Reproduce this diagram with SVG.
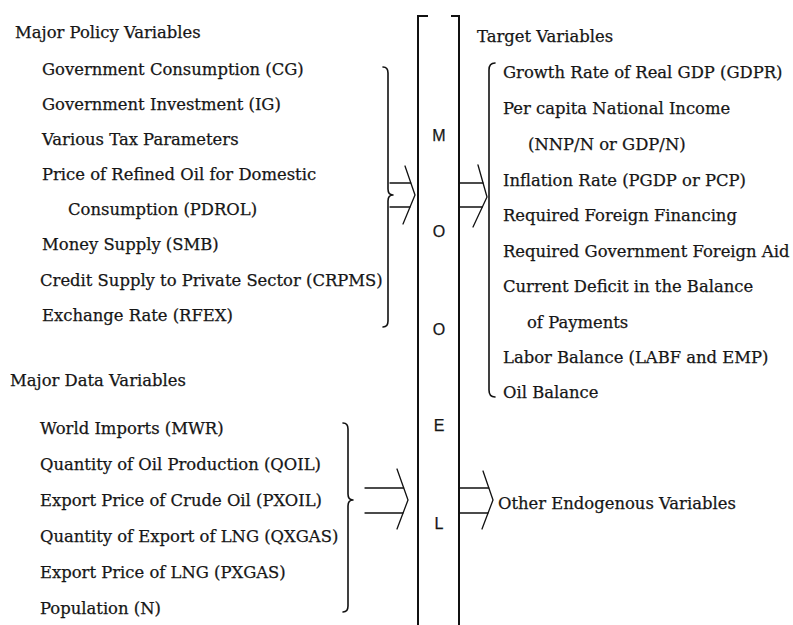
<svg xmlns="http://www.w3.org/2000/svg" width="793" height="625" viewBox="0 0 793 625">
<style>
  text { font-family: "DejaVu Serif", "Liberation Serif", serif; font-size: 16.4px; fill: #161616; stroke: #161616; stroke-width: 0.25; }
  .letter { font-family: "Liberation Sans", "DejaVu Sans", sans-serif; font-size: 16px; text-anchor: middle; stroke-width: 0.25; }
  .line { fill: none; stroke: #111; stroke-width: 1.3; stroke-linecap: round; stroke-linejoin: round; }
  .brace { fill: none; stroke: #111; stroke-width: 1.6; stroke-linecap: round; stroke-linejoin: round; }
  .col { fill: none; stroke: #111; stroke-width: 2; stroke-linecap: butt; }
</style>
<rect width="793" height="625" fill="#fff"/>

<g id="policy-variables">
  <text x="15" y="38">Major Policy Variables</text>
  <text x="42" y="75">Government Consumption (CG)</text>
  <text x="42" y="110">Government Investment (IG)</text>
  <text x="42" y="145">Various Tax Parameters</text>
  <text x="42" y="180">Price of Refined Oil for Domestic</text>
  <text x="68" y="215">Consumption (PDROL)</text>
  <text x="42" y="250">Money Supply (SMB)</text>
  <text x="40" y="286">Credit Supply to Private Sector (CRPMS)</text>
  <text x="42" y="321">Exchange Rate (RFEX)</text>
</g>

<g id="data-variables">
  <text x="10" y="386">Major Data Variables</text>
  <text x="40" y="434">World Imports (MWR)</text>
  <text x="40" y="470">Quantity of Oil Production (QOIL)</text>
  <text x="40" y="506">Export Price of Crude Oil (PXOIL)</text>
  <text x="40" y="542">Quantity of Export of LNG (QXGAS)</text>
  <text x="40" y="578">Export Price of LNG (PXGAS)</text>
  <text x="40" y="614">Population (N)</text>
</g>

<g id="model">
  <path class="col" d="M428,16 L418,16 L418,625"/>
  <path class="col" d="M451,16 L459,16 L459,625"/>
  <text class="letter" x="439" y="141">M</text>
  <text class="letter" x="439" y="237">O</text>
  <text class="letter" x="439" y="335">O</text>
  <text class="letter" x="439" y="431">E</text>
  <text class="letter" x="439" y="529">L</text>
</g>

<g id="target-variables">
  <text x="477" y="42">Target Variables</text>
  <text x="503" y="78">Growth Rate of Real GDP (GDPR)</text>
  <text x="503" y="114">Per capita National Income</text>
  <text x="528" y="150">(NNP/N or GDP/N)</text>
  <text x="503" y="186">Inflation Rate (PGDP or PCP)</text>
  <text x="503" y="221">Required Foreign Financing</text>
  <text x="503" y="257">Required Government Foreign Aid</text>
  <text x="503" y="292">Current Deficit in the Balance</text>
  <text x="527" y="328">of Payments</text>
  <text x="503" y="363">Labor Balance (LABF and EMP)</text>
  <text x="503" y="398">Oil Balance</text>
</g>

<g id="other-endogenous">
  <text x="498" y="509">Other Endogenous Variables</text>
</g>

<g id="connectors">
  <!-- policy brace and arrow into model -->
  <path class="brace" d="M383,67 Q388,67 388,73 L388,189 Q388,195 393,195 Q388,195 388,201 L388,321 Q388,327 383,327"/>
  <path class="line" d="M390,183 L410.7,183 M390,207 L409.9,207"/>
  <path class="line" d="M405,166 L415,195 L403,224"/>
  <!-- model to target -->
  <path class="line" d="M459,183 L483,183 M459,207 L482.3,207"/>
  <path class="line" d="M478,165 L487,197 L473,227"/>
  <path class="brace" d="M495,63 Q489,63 489,70 L489,390 Q489,397 495,397"/>
  <!-- data brace and arrow into model -->
  <path class="brace" d="M343,423 Q348,423 348,429 L348,494 Q348,500 353,500 Q348,500 348,506 L348,606 Q348,612 343,612"/>
  <path class="line" d="M365,488 L403.6,488 M365,513 L402.9,513"/>
  <path class="line" d="M397,469 L408,500 L397,529"/>
  <!-- model to other endogenous -->
  <path class="line" d="M459,488 L488.7,488 M459,513 L487.9,513"/>
  <path class="line" d="M483,471 L493,500 L482,529"/>
</g>
</svg>
